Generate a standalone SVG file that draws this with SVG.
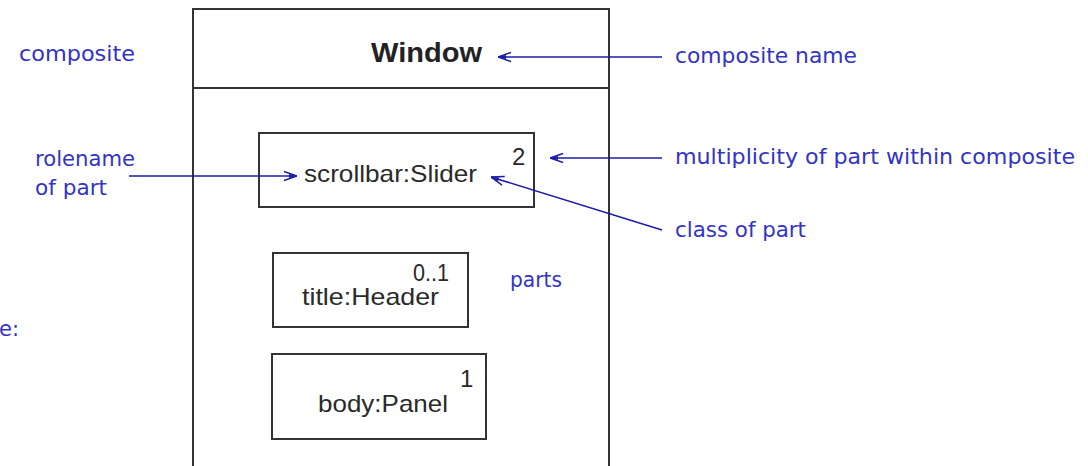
<svg xmlns="http://www.w3.org/2000/svg" width="1088" height="466" viewBox="0 0 1088 466">
<style>
.box{fill:#fff;stroke:#333;stroke-width:2}
.note{font-family:"DejaVu Sans",sans-serif;font-size:21px;fill:#3333c4}
.txt{font-family:"Liberation Sans",sans-serif;font-size:24px;fill:#2a2a2a}
.title{font-family:"Liberation Sans",sans-serif;font-size:27px;font-weight:bold;fill:#222}
.conn{stroke:#1c1ca8;stroke-width:1.6;fill:none;marker-end:url(#arr)}
</style>
<defs>
<marker id="arr" viewBox="0 0 14 12" refX="14" refY="6" markerWidth="14" markerHeight="12" orient="auto" markerUnits="userSpaceOnUse">
<path d="M1,1.5 L14,6 L1,10.5" fill="none" stroke="#1c1ca8" stroke-width="1.4"/>
<path d="M6,4 L14,6 L6,8 z" fill="#1c1ca8"/>
</marker>
</defs>
<rect width="1088" height="466" fill="#fff"/>
<g id="window">
<path d="M193,466 V9 H609 V466" class="box" fill="#fff"/>
<line x1="193" y1="88" x2="609" y2="88" stroke="#333" stroke-width="2"/>
<text x="371" y="62" class="title" textLength="111" lengthAdjust="spacingAndGlyphs">Window</text>
</g>
<g id="scrollbar">
<rect x="259" y="133" width="275" height="74" class="box"/>
<text x="304" y="182" class="txt" textLength="173" lengthAdjust="spacingAndGlyphs">scrollbar:Slider</text>
<text x="512" y="165" class="txt">2</text>
</g>
<g id="title">
<rect x="273" y="253" width="195" height="74" class="box"/>
<text x="413" y="281" class="txt" textLength="36" lengthAdjust="spacingAndGlyphs">0..1</text>
<text x="302" y="305" class="txt" textLength="137" lengthAdjust="spacingAndGlyphs">title:Header</text>
</g>
<g id="body">
<rect x="272" y="354" width="214" height="85" class="box"/>
<text x="460" y="387" class="txt">1</text>
<text x="318" y="412" class="txt" textLength="130" lengthAdjust="spacingAndGlyphs">body:Panel</text>
</g>
<g id="labels">
<text x="19" y="61" class="note" textLength="116" lengthAdjust="spacingAndGlyphs">composite</text>
<text x="675" y="63" class="note" textLength="182" lengthAdjust="spacingAndGlyphs">composite name</text>
<text x="675" y="164" class="note" textLength="400" lengthAdjust="spacingAndGlyphs">multiplicity of part within composite</text>
<text x="675" y="237" class="note" textLength="131" lengthAdjust="spacingAndGlyphs">class of part</text>
<text x="35" y="166" class="note" textLength="100" lengthAdjust="spacingAndGlyphs">rolename</text>
<text x="35" y="195" class="note" textLength="72" lengthAdjust="spacingAndGlyphs">of part</text>
<text x="510" y="287" class="note" textLength="52" lengthAdjust="spacingAndGlyphs">parts</text>
<text x="-1" y="336" class="note">e:</text>
</g>
<g id="connectors">
<line x1="662" y1="57" x2="498" y2="57" class="conn"/>
<line x1="662" y1="158" x2="550" y2="158" class="conn"/>
<line x1="129" y1="176" x2="297" y2="176" class="conn"/>
<line x1="662" y1="230" x2="491" y2="177" class="conn"/>
</g>
</svg>
